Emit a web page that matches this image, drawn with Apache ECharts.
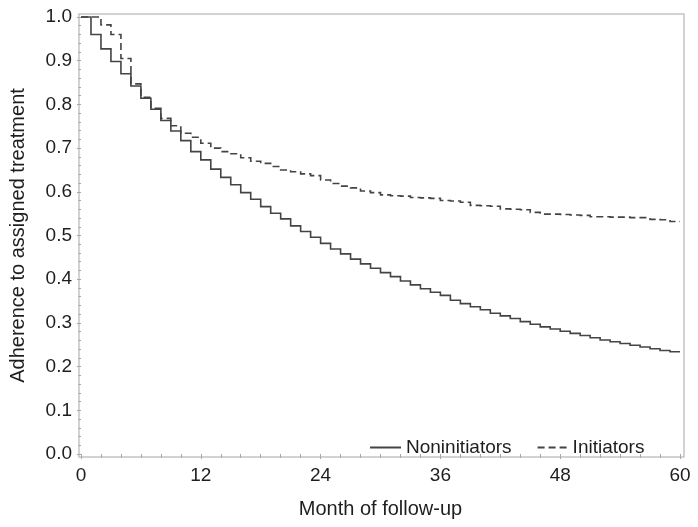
<!DOCTYPE html>
<html>
<head>
<meta charset="utf-8">
<script src="https://cdn.jsdelivr.net/npm/echarts@6/dist/echarts.min.js"></script>
<style>
  html, body { margin: 0; padding: 0; background: #fff; }
  #chart { width: 698px; height: 527px; }
</style>
</head>
<body>
<div id="chart"></div>
<script>
// Months of follow-up at which the adherence curves are evaluated
const months = [
  0, 1, 2, 3, 4, 5, 6, 7, 8, 9,
  10, 11, 12, 13, 14, 15, 16, 17, 18, 19,
  20, 21, 22, 23, 24, 25, 26, 27, 28, 29,
  30, 31, 32, 33, 34, 35, 36, 37, 38, 39,
  40, 41, 42, 43, 44, 45, 46, 47, 48, 49,
  50, 51, 52, 53, 54, 55, 56, 57, 58, 59,
  60
];

// Proportion still adherent, holding from each month to the next
const noninitiators = [
  1.000, 0.960, 0.927, 0.898, 0.870, 0.842, 0.814, 0.789, 0.763, 0.739,
  0.717, 0.692, 0.673, 0.652, 0.633, 0.616, 0.598, 0.583, 0.566, 0.551,
  0.538, 0.522, 0.509, 0.496, 0.482, 0.469, 0.458, 0.446, 0.435, 0.425,
  0.415, 0.406, 0.396, 0.387, 0.378, 0.370, 0.363, 0.352, 0.344, 0.337,
  0.330, 0.322, 0.316, 0.310, 0.303, 0.297, 0.291, 0.286, 0.281, 0.276,
  0.271, 0.266, 0.261, 0.257, 0.253, 0.249, 0.245, 0.241, 0.237, 0.234,
  0.234
];

const initiators = [
  1.000, 1.000, 0.982, 0.960, 0.905, 0.847, 0.816, 0.791, 0.768, 0.751,
  0.734, 0.725, 0.711, 0.700, 0.692, 0.687, 0.678, 0.670, 0.665, 0.658,
  0.650, 0.646, 0.641, 0.637, 0.627, 0.619, 0.613, 0.609, 0.602, 0.598,
  0.593, 0.591, 0.590, 0.587, 0.586, 0.585, 0.580, 0.579, 0.576, 0.569,
  0.568, 0.567, 0.561, 0.560, 0.559, 0.553, 0.549, 0.549, 0.548, 0.547,
  0.546, 0.543, 0.543, 0.542, 0.542, 0.541, 0.541, 0.537, 0.536, 0.532,
  0.532
];

const seriesNames = ['Noninitiators', 'Initiators'];
const xTitle = 'Month of follow-up';
const yTitle = 'Adherence to assigned treatment';

const FONT = '"Liberation Sans", Arial, sans-serif';
const INK = '#1e1e1e';
const LINE = '#444';
const FRAME = '#c4c4c4';
const TICK = '#a8a8a8';
const DASH = [7, 4];

// legend keys: a plain bar and three short dashes
const SOLID_KEY = 'path://M0,0H31V2H0Z';
const DASH_KEY = 'path://M0,0H7V2H0Z M11,0H18V2H11Z M22,0H29V2H22Z';

const pairs = (vals) => months.map((m, i) => [m, vals[i]]);

// Whole survival curve as one stepped polyline, placed through the axes
function stepCurve(vals, dash) {
  return function (params, api) {
    if (params.dataIndex !== 0) return null;
    const pts = [];
    for (let i = 0; i < months.length; i++) {
      if (i > 0) pts.push(api.coord([months[i], vals[i - 1]]));
      pts.push(api.coord([months[i], vals[i]]));
    }
    return {
      type: 'polyline',
      silent: true,
      shape: { points: pts },
      style: { stroke: LINE, lineWidth: 1.6, fill: null, lineDash: dash }
    };
  };
}

const chart = echarts.init(document.getElementById('chart'), null, { renderer: 'canvas' });

chart.setOption({
  animation: false,
  backgroundColor: '#fff',
  textStyle: { fontFamily: FONT, color: INK },
  grid: [
    // outer wall of the plot area
    { left: 79, top: 14, right: 14, bottom: 70, show: true, borderColor: FRAME, borderWidth: 1.5, backgroundColor: 'transparent' },
    // data area, inset slightly from the wall
    { left: 81, top: 17, right: 18, bottom: 73 }
  ],
  xAxis: [
    { gridIndex: 0, type: 'value', show: false, min: 0, max: 1 },
    {
      gridIndex: 1, type: 'value', min: 0, max: 60, interval: 12,
      offset: 3,
      name: xTitle, nameLocation: 'middle', nameGap: 42,
      nameTextStyle: { fontSize: 20, color: INK, fontFamily: FONT },
      axisLine: { show: false },
      axisTick: { show: true, length: 5, lineStyle: { color: TICK, width: 1 } },
      minorTick: { show: true, splitNumber: 6, length: 4, lineStyle: { color: TICK, width: 1 } },
      splitLine: { show: false },
      axisLabel: { fontSize: 19, color: INK, fontFamily: FONT, margin: 9 }
    }
  ],
  yAxis: [
    { gridIndex: 0, type: 'value', show: false, min: 0, max: 1 },
    {
      gridIndex: 1, type: 'value', min: 0, max: 1, interval: 0.1,
      offset: 2,
      name: yTitle, nameLocation: 'middle', nameGap: 51,
      nameTextStyle: { fontSize: 20, color: INK, fontFamily: FONT },
      axisLine: { show: false },
      axisTick: { show: true, length: 4, lineStyle: { color: TICK, width: 1 } },
      minorTick: { show: true, splitNumber: 5, length: 2.5, lineStyle: { color: TICK, width: 1 } },
      splitLine: { show: false },
      axisLabel: { fontSize: 19, color: INK, fontFamily: FONT, margin: 7, formatter: (v) => v.toFixed(1) }
    }
  ],
  legend: {
    data: [
      { name: seriesNames[0], icon: SOLID_KEY },
      { name: seriesNames[1], icon: DASH_KEY }
    ],
    left: 365, top: 433,
    itemWidth: 31, itemHeight: 2, itemGap: 26,
    itemStyle: { color: LINE },
    textStyle: { fontSize: 19, color: INK, fontFamily: FONT }
  },
  series: [
    {
      name: seriesNames[0], type: 'custom', xAxisIndex: 1, yAxisIndex: 1,
      itemStyle: { color: LINE },
      encode: { x: 0, y: 1 },
      renderItem: stepCurve(noninitiators, null),
      data: pairs(noninitiators)
    },
    {
      name: seriesNames[1], type: 'custom', xAxisIndex: 1, yAxisIndex: 1,
      itemStyle: { color: LINE },
      encode: { x: 0, y: 1 },
      renderItem: stepCurve(initiators, DASH),
      data: pairs(initiators)
    }
  ]
});
</script>
</body>
</html>
